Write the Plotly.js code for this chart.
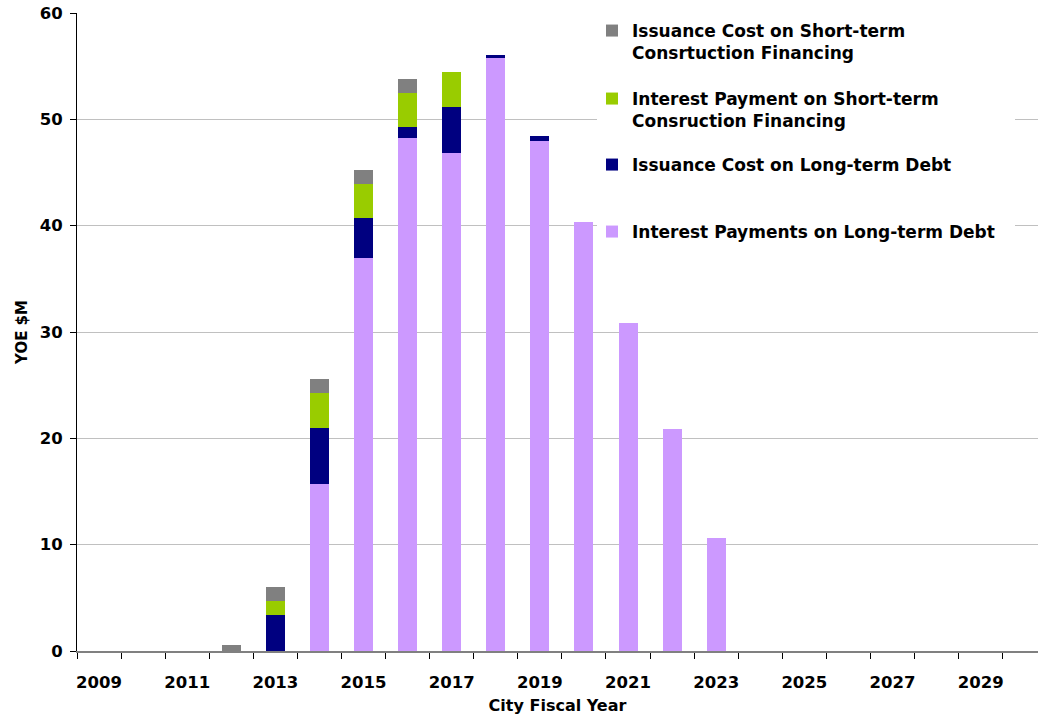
<!DOCTYPE html>
<html>
<head>
<meta charset="utf-8">
<script src="https://cdn.plot.ly/plotly-3.0.1.min.js"></script>
<style>html,body{margin:0;padding:0;background:#fff;}#chart{width:1038px;height:715px;}</style>
</head>
<body>
<div id="chart"></div>
<script>
const years = ["2009","2010","2011","2012","2013","2014","2015","2016","2017","2018","2019","2020","2021","2022","2023","2024","2025","2026","2027","2028","2029","2030"];
const tickLabels = years.map((y, i) => (i % 2 === 0 ? y : ""));

const interestLongTerm  = [0,0,0,0,0,15.7,36.95,48.2,46.8,55.75,47.95,40.3,30.85,20.9,10.65,0,0,0,0,0,0,0];
const issuanceLongTerm  = [0,0,0,0,3.4,5.25,3.75,1.05,4.35,0.3,0.45,0,0,0,0,0,0,0,0,0,0,0];
const interestShortTerm = [0,0,0,0,1.3,3.3,3.2,3.2,3.3,0,0,0,0,0,0,0,0,0,0,0,0,0];
const issuanceShortTerm = [0,0,0,0.6,1.3,1.3,1.3,1.3,0,0,0,0,0,0,0,0,0,0,0,0,0,0];

const names = {
  issST: "Issuance Cost on Short-term<br>Consrtuction Financing",
  intST: "Interest Payment on Short-term<br>Consruction Financing",
  issLT: "Issuance Cost on Long-term Debt",
  intLT: "Interest Payments on Long-term Debt"
};

const FONT = "DejaVu Sans, Verdana, sans-serif";

const traces = [
  {type:"bar", x:years, y:interestLongTerm,  name:names.intLT, marker:{color:"#cc99ff"}, legend:"legend4"},
  {type:"bar", x:years, y:issuanceLongTerm,  name:names.issLT, marker:{color:"#000080"}, legend:"legend3"},
  {type:"bar", x:years, y:interestShortTerm, name:names.intST, marker:{color:"#99cc00"}, legend:"legend2"},
  {type:"bar", x:years, y:issuanceShortTerm, name:names.issST, marker:{color:"#808080"}, legend:"legend"}
];

const W = 1038, H = 715;
const PL = 77, PT = 13, PB = 651, PR = 1038;
function leg(px, py) {
  return {
    xref:"paper", yref:"paper",
    x: (px - PL) / (PR - PL), y: (PB - py) / (PB - PT), xanchor:"left", yanchor:"top",
    bgcolor:"rgba(0,0,0,0)", borderwidth:0, valign:"top",
    font:{family:FONT, size:17, color:"#000", weight:"bold"}
  };
}

const layout = {
  width: W, height: H,
  paper_bgcolor:"#fff", plot_bgcolor:"#fff",
  margin:{l:PL, r:W-PR, t:PT, b:H-PB, pad:0, autoexpand:false},
  barmode:"stack",
  bargap:0.57,
  showlegend:true,
  legend:  leg(592, 13),
  legend2: leg(592, 81),
  legend3: leg(592, 147),
  legend4: leg(592, 214),
  font:{family:FONT, color:"#000", weight:"bold"},
  xaxis:{
    type:"category",
    range:[-0.5, 21.3],
    tickmode:"array", tickvals:years, ticktext:tickLabels,
    tickson:"boundaries",
    ticks:"outside", ticklen:6, tickcolor:"#000", tickwidth:1,
    showline:true, linecolor:"#808080", linewidth:2,
    showgrid:false, zeroline:false,
    tickangle:0,
    ticklabelstandoff:15,
    tickfont:{family:FONT, size:16.5, color:"#000", weight:"bold"},
    title:{text:"City Fiscal Year", font:{family:FONT, size:16, color:"#000", weight:"bold"}, standoff:9},
    fixedrange:true
  },
  yaxis:{
    range:[0,60], tickvals:[0,10,20,30,40,50,60],
    ticks:"outside", ticklen:6, tickcolor:"#000", tickwidth:1,
    showline:true, linecolor:"#000", linewidth:1,
    showgrid:true, gridcolor:"#c0c0c0", gridwidth:1,
    zeroline:false,
    ticklabelstandoff:4,
    tickfont:{family:FONT, size:16.5, color:"#000", weight:"bold"},
    title:{text:"YOE $M", font:{family:FONT, size:15, color:"#000", weight:"bold"}, standoff:8},
    fixedrange:true
  },
  shapes:[
    {type:"rect", xref:"paper", yref:"paper", layer:"above",
     x0:(597-PL)/(PR-PL), x1:(1015-PL)/(PR-PL), y0:(PB-255)/(PB-PT), y1:1.01,
     fillcolor:"#fff", line:{width:0}}
  ]
};

Plotly.newPlot("chart", traces, layout, {displayModeBar:false, staticPlot:true});
</script>
</body>
</html>
